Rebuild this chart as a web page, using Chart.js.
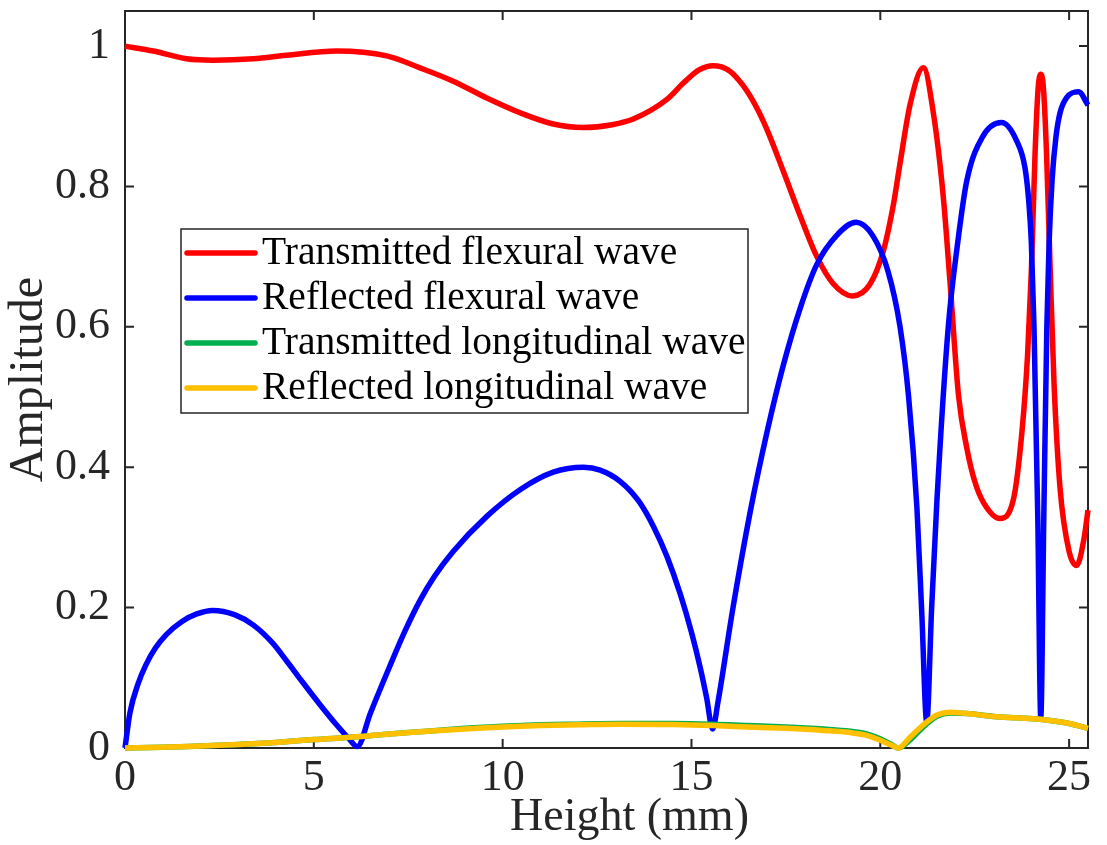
<!DOCTYPE html>
<html>
<head>
<meta charset="utf-8">
<script src="https://cdn.jsdelivr.net/npm/chart.js@4.4.1/dist/chart.umd.min.js"></script>
<style>
  html, body { margin: 0; padding: 0; background: #fff; }
</style>
</head>
<body>
<canvas id="myChart1" width="1107" height="845"></canvas>
<script>
// valores (altura en mm, amplitud)
const tfX = [0, 0.75, 1.63, 2.33, 3.4, 4.28, 5.6, 6.93, 7.81, 8.69, 9.58, 10.46, 11.34, 12.13, 12.9, 13.46, 14.35, 14.8, 15.2, 15.57, 16.0, 16.35, 16.7, 17.0, 17.43, 17.88, 18.32, 18.76, 19.26, 19.73, 20.08, 20.35, 20.52, 20.79, 21.14, 21.41, 21.67, 21.85, 22.07, 22.3, 22.5, 22.73, 23.17, 23.52, 23.75, 23.9, 24.0, 24.1, 24.18, 24.25, 24.32, 24.4, 24.5, 24.6, 24.76, 25.0, 25.2, 25.4, 25.5];
const tfY = [1.0, 0.993, 0.982, 0.98, 0.982, 0.987, 0.993, 0.986, 0.969, 0.95, 0.926, 0.905, 0.889, 0.884, 0.888, 0.896, 0.924, 0.948, 0.966, 0.972, 0.965, 0.945, 0.915, 0.881, 0.822, 0.758, 0.7, 0.661, 0.644, 0.661, 0.708, 0.775, 0.832, 0.917, 0.969, 0.903, 0.784, 0.661, 0.503, 0.425, 0.38, 0.35, 0.327, 0.353, 0.45, 0.56, 0.68, 0.85, 0.94, 0.96, 0.94, 0.85, 0.68, 0.52, 0.37, 0.28, 0.26, 0.3, 0.339];

const rfX = [0, 0.13, 0.35, 0.55, 0.8, 1.1, 1.5, 1.9, 2.32, 2.9, 3.4, 3.9, 4.28, 4.7, 5.16, 5.6, 5.95, 6.15, 6.5, 7.0, 7.4, 7.81, 8.2, 8.69, 9.58, 10.46, 11.34, 12.14, 12.58, 13.11, 13.6, 14.0, 14.35, 14.7, 15.0, 15.23, 15.4, 15.56, 15.7, 16.1, 16.55, 17.0, 17.43, 17.9, 18.32, 18.84, 19.36, 19.8, 20.2, 20.52, 20.75, 20.97, 21.1, 21.23, 21.36, 21.5, 21.8, 22.05, 22.29, 22.7, 23.21, 23.61, 23.83, 23.93, 24.0, 24.07, 24.17, 24.25, 24.33, 24.41, 24.47, 24.55, 24.65, 24.76, 24.94, 25.25, 25.5];
const rfY = [0, 0.05, 0.092, 0.118, 0.142, 0.162, 0.18, 0.191, 0.196, 0.19, 0.175, 0.15, 0.124, 0.094, 0.062, 0.033, 0.012, 0.002, 0.05, 0.115, 0.165, 0.21, 0.245, 0.28, 0.33, 0.368, 0.393, 0.4, 0.396, 0.38, 0.352, 0.315, 0.273, 0.22, 0.165, 0.115, 0.072, 0.027, 0.065, 0.2, 0.335, 0.45, 0.545, 0.63, 0.689, 0.73, 0.749, 0.73, 0.68, 0.601, 0.5, 0.342, 0.19, 0.037, 0.2, 0.353, 0.6, 0.72, 0.808, 0.87, 0.891, 0.865, 0.827, 0.78, 0.72, 0.6, 0.33, 0.043, 0.33, 0.6, 0.72, 0.81, 0.87, 0.905, 0.927, 0.935, 0.916];

const lonX = [0, 1, 2, 3, 4, 5, 6.15, 7, 8, 9, 10, 11, 12, 13.1, 14.5, 15.56, 16.5, 17.5, 18.5, 19.2, 19.64, 20.0, 20.3, 20.48, 20.8, 21.14, 21.5, 21.85, 22.3, 23.0, 23.6, 24.23, 25.0, 25.5];
const tlY = [0, 0.001, 0.003, 0.005, 0.008, 0.012, 0.016, 0.02, 0.024, 0.028, 0.031, 0.033, 0.034, 0.035, 0.035, 0.034, 0.032, 0.03, 0.027, 0.024, 0.02, 0.013, 0.005, 0.0, 0.012, 0.03, 0.045, 0.05, 0.049, 0.045, 0.043, 0.041, 0.035, 0.028];
const rlY = [0, 0.001, 0.003, 0.005, 0.008, 0.012, 0.016, 0.02, 0.024, 0.027, 0.03, 0.032, 0.033, 0.034, 0.0335, 0.032, 0.03, 0.028, 0.025, 0.022, 0.018, 0.011, 0.004, 0.0, 0.016, 0.033, 0.047, 0.051, 0.049, 0.045, 0.043, 0.041, 0.035, 0.028];

const xTicks = [0, 5, 10, 15, 20, 25];
const yTicks = [0, 0.2, 0.4, 0.6, 0.8, 1];

const serif = "'Liberation Serif', 'Times New Roman', serif";
const axisColor = "#262626";

const pts = (xs, ys) => xs.map((x, i) => ({ x: x, y: ys[i] }));

function serie(label, xs, ys, color, order) {
  return {
    label: label,
    data: pts(xs, ys),
    borderColor: color,
    backgroundColor: color,
    borderWidth: 5.5,
    pointRadius: 0,
    tension: 0.4,
    cubicInterpolationMode: "monotone",
    clip: 4,
    order: order,
  };
}

// marco tipo matlab con ticks hacia dentro
const frame = {
  id: "frame",
  beforeDatasetsDraw(chart) {
    const { ctx, chartArea: a, scales } = chart;
    ctx.save();
    ctx.strokeStyle = axisColor;
    ctx.lineWidth = 2;
    ctx.strokeRect(a.left, a.top, a.right - a.left, a.bottom - a.top);
    ctx.beginPath();
    scales.x.ticks.forEach((t) => {
      const px = scales.x.getPixelForValue(t.value);
      ctx.moveTo(px, a.bottom); ctx.lineTo(px, a.bottom - 9);
      ctx.moveTo(px, a.top); ctx.lineTo(px, a.top + 9);
    });
    scales.y.ticks.forEach((t) => {
      const py = scales.y.getPixelForValue(t.value);
      ctx.moveTo(a.left, py); ctx.lineTo(a.left + 9, py);
      ctx.moveTo(a.right, py); ctx.lineTo(a.right - 9, py);
    });
    ctx.stroke();
    ctx.restore();
  },
  afterDraw(chart) {
    // titulo del eje x (un poco desplazado a la derecha como en la figura)
    const { ctx, chartArea: a } = chart;
    ctx.save();
    ctx.font = "46px " + serif;
    ctx.fillStyle = axisColor;
    ctx.textAlign = "center";
    ctx.textBaseline = "alphabetic";
    ctx.fillText("Height (mm)", (a.left + a.right) / 2 + 23, 830);
    ctx.restore();
  },
};

// leyenda dentro del area
const legendBox = {
  id: "legendBox",
  afterDraw(chart) {
    const { ctx, chartArea: a } = chart;
    const x0 = a.left + 56, y0 = a.top + 218;
    ctx.save();
    ctx.fillStyle = "#fff";
    ctx.fillRect(x0, y0, 567, 184);
    ctx.strokeStyle = axisColor;
    ctx.lineWidth = 1.5;
    ctx.strokeRect(x0, y0, 567, 184);
    ctx.font = "39.5px " + serif;
    ctx.textBaseline = "middle";
    chart.data.datasets.forEach((ds, i) => {
      const cy = y0 + 24 + i * 45;
      ctx.strokeStyle = ds.borderColor;
      ctx.lineWidth = 5.5;
      ctx.lineCap = "round";
      ctx.beginPath();
      ctx.moveTo(x0 + 6, cy);
      ctx.lineTo(x0 + 74, cy);
      ctx.stroke();
      ctx.fillStyle = "#000";
      ctx.fillText(ds.label, x0 + 81, cy + 1);
    });
    ctx.restore();
  },
};

const ctx = document.getElementById("myChart1").getContext("2d");

const config = {
  type: "line",
  data: {
    datasets: [
      serie("Transmitted flexural wave", tfX, tfY, "#ff0000", 4),
      serie("Reflected flexural wave", rfX, rfY, "#0000ff", 3),
      serie("Transmitted longitudinal wave", lonX, tlY, "#00b050", 2),
      serie("Reflected longitudinal wave", lonX, rlY, "#ffc000", 1),
    ],
  },
  options: {
    responsive: false,
    animation: false,
    layout: { padding: { left: 0, right: 19, top: 11, bottom: 0 } },
    scales: {
      x: {
        type: "linear",
        min: 0,
        max: 25.5,
        afterBuildTicks: (s) => { s.ticks = xTicks.map((v) => ({ value: v })); },
        afterFit: (s) => { s.height = 97; s.paddingLeft = 0; s.paddingRight = 0; },
        ticks: {
          font: { family: serif, size: 44 },
          color: axisColor,
          padding: 4,
          maxRotation: 0,
          autoSkip: false,
          callback: (v) => String(v),
        },
        grid: { display: false, drawTicks: false },
        border: { display: false },
      },
      y: {
        min: 0,
        max: 1.05,
        afterBuildTicks: (s) => { s.ticks = yTicks.map((v) => ({ value: v })); },
        afterFit: (s) => { s.width = 125; s.paddingTop = 0; s.paddingBottom = 0; },
        ticks: {
          font: { family: serif, size: 44 },
          color: axisColor,
          padding: 15,
          autoSkip: false,
          callback: (v) => String(v),
        },
        grid: { display: false, drawTicks: false },
        border: { display: false },
        title: {
          display: true,
          text: "Amplitude",
          font: { family: serif, size: 48, lineHeight: 1 },
          color: axisColor,
          padding: { top: 5, bottom: 0 },
        },
      },
    },
    plugins: {
      legend: { display: false },
      tooltip: { enabled: false },
    },
  },
  plugins: [frame, legendBox],
};

const myChart = new Chart(ctx, config);
</script>
</body>
</html>
